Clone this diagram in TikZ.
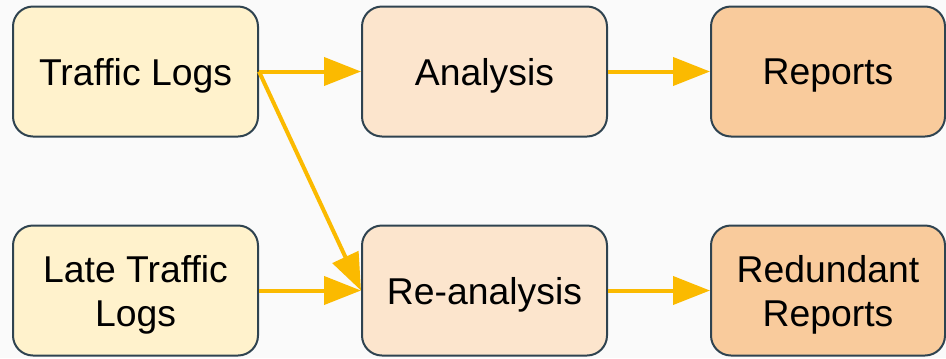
\documentclass[tikz,border=0pt]{standalone}
\usepackage{fontspec}
\setmainfont{Liberation Sans}
\usetikzlibrary{arrows.meta}
\definecolor{bg}{HTML}{FAFAFA}
\definecolor{fillA}{HTML}{FFF2CC}
\definecolor{fillB}{HTML}{FCE5CD}
\definecolor{fillC}{HTML}{F9CB9C}
\definecolor{edgecol}{HTML}{2F4350}
\definecolor{arrowcol}{HTML}{FBBA00}
\tikzset{
  box/.style={draw=edgecol, line width=1.5pt, rounded corners=15pt, minimum width=183.75pt, minimum height=97.5pt, align=center, font=\fontsize{28}{33}\selectfont, inner sep=0pt, text depth=0pt},
  flow/.style={draw=arrowcol, line width=3pt, -{Triangle[length=27.75pt, width=21pt]}}
}
\begin{document}
\begin{tikzpicture}[x=0.75pt, y=-0.75pt]
\fill[bg] (0,0) rectangle (946,358);
\useasboundingbox (0,0) rectangle (946,358);
\node[box, fill=fillA] (tl) at (135.5,71.5) {Traffic Logs};
\node[box, fill=fillB] (an) at (484.5,71.5) {Analysis};
\node[box, fill=fillC, minimum width=175.5pt] (rp) at (828,71.5) {Reports};
\node[box, fill=fillA] (ltl) at (135.5,290.5) {Late Traffic\\Logs};
\node[box, fill=fillB] (ra) at (484.5,290.5) {Re-analysis};
\node[box, fill=fillC, minimum width=175.5pt] (rr) at (828,290.5) {Redundant\\Reports};
\draw[flow] (tl.east) -- (an.west);
\draw[flow] (an.east) -- (rp.west);
\draw[flow] (tl.east) -- (ra.west);
\draw[flow] (ltl.east) -- (ra.west);
\draw[flow] (ra.east) -- (rr.west);
\end{tikzpicture}
\end{document}
